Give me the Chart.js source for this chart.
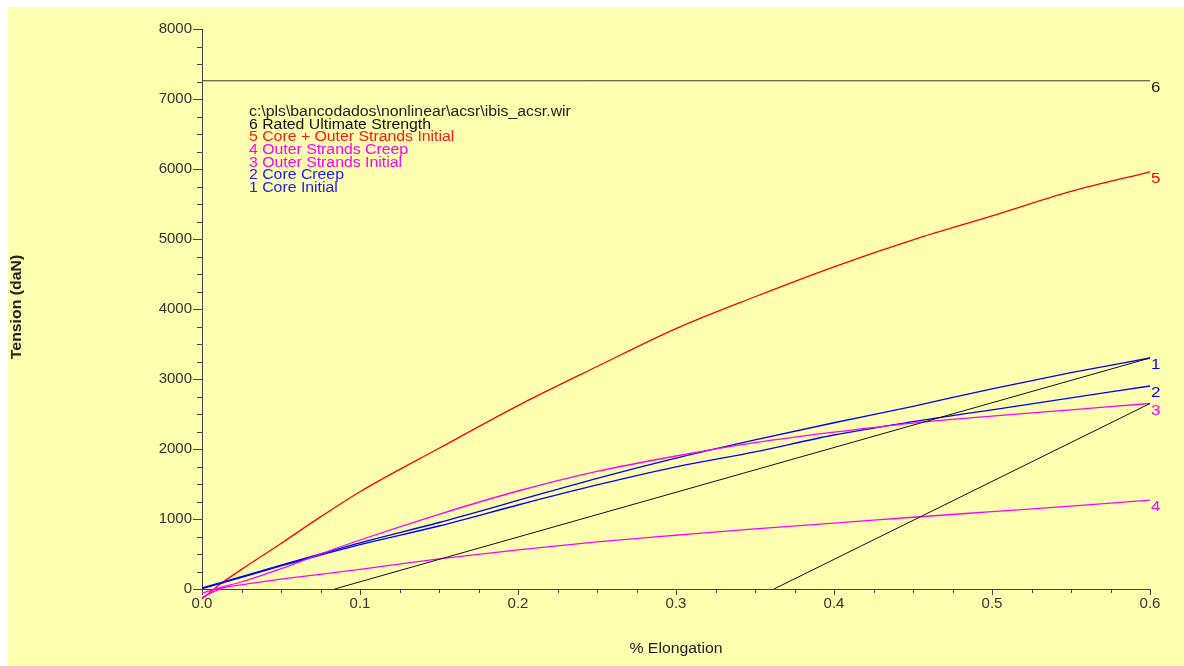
<!DOCTYPE html>
<html>
<head>
<meta charset="utf-8">
<script src="https://cdn.jsdelivr.net/npm/chart.js@4/dist/chart.umd.min.js"></script>
<style>
  html, body { margin: 0; padding: 0; background: #fff; }
  #wrap { width: 1184px; height: 666px; }
</style>
</head>
<body>
<div id="wrap"><canvas id="c" width="1184" height="666"></canvas></div>
<script>
// % elongation sample points shared by the measured curves
const elong = [0, 0.0125, 0.025, 0.05, 0.075, 0.1, 0.15, 0.2, 0.25, 0.3, 0.35, 0.4, 0.45, 0.5, 0.55, 0.6];

// tension (daN)
const coreOuterInitial = [-140, 85, 280, 650, 1030, 1390, 2010, 2620, 3178, 3720, 4175, 4603, 4987, 5330, 5680, 5960];
const outerCreep       = [-120, 10, 60, 140, 210, 280, 430, 560, 672, 768, 860, 940, 1025, 1105, 1185, 1271];
const outerInitial     = [-60, 25, 100, 290, 500, 700, 1067, 1400, 1680, 1900, 2090, 2240, 2370, 2470, 2560, 2650];
const coreCreep        = [5, 85, 165, 330, 485, 635, 900, 1200, 1486, 1745, 1960, 2200, 2390, 2560, 2730, 2900];
const coreInitial      = [15, 95, 175, 340, 500, 660, 950, 1265, 1581, 1870, 2130, 2375, 2610, 2860, 3090, 3300];

// straight lines
const ratedX = [0, 0.6];
const ratedY = [7260, 7260];
const unloadAX = [0.0839, 0.6];
const unloadAY = [0, 3300];
const unloadBX = [0.362, 0.6];
const unloadBY = [0, 2650];

// axis ticks
const xTicks = [0, 0.1, 0.2, 0.3, 0.4, 0.5, 0.6];
const yTicks = [0, 1000, 2000, 3000, 4000, 5000, 6000, 7000, 8000];

// text block
const legendLines = [
  'c:\\pls\\bancodados\\nonlinear\\acsr\\ibis_acsr.wir',
  '6 Rated Ultimate Strength',
  '5 Core + Outer Strands Initial',
  '4 Outer Strands Creep',
  '3 Outer Strands Initial',
  '2 Core Creep',
  '1 Core Initial'
];
const legendColors = ['#222', '#111', '#ff1a1a', '#f0f', '#f0f', '#1a1aff', '#1a1aff'];

const FONT = '"Liberation Sans", Arial, sans-serif';
const BLUE = '#0000ff', MAG = '#ff00ff', RED = '#ff0000';
const STRETCH = 1.13; // the original text is drawn a bit wide

function pts(xs, ys) { return xs.map((x, i) => ({ x: x, y: ys[i] })); }

function curve(label, tag, xs, ys, color, w) {
  return {
    label: label, endTag: tag,
    data: pts(xs, ys),
    borderColor: color, backgroundColor: color,
    borderWidth: w || 1.3, pointRadius: 0, showLine: true,
    cubicInterpolationMode: 'monotone', clip: false
  };
}

// draws text widened horizontally, anchored at x (left or center)
function wideText(ctx, text, x, y, align) {
  ctx.save();
  ctx.translate(x, y);
  ctx.scale(STRETCH, 1);
  ctx.textAlign = align;
  ctx.fillText(text, 0, 0);
  ctx.restore();
}

const bgPlugin = {
  id: 'bg',
  beforeDraw(chart) {
    const ctx = chart.ctx;
    ctx.save();
    ctx.fillStyle = '#fff';
    ctx.fillRect(0, 0, chart.width, chart.height);
    ctx.fillStyle = '#ffffb0';
    ctx.fillRect(8, 7, chart.width - 8, chart.height - 7);
    ctx.restore();
  }
};

const extrasPlugin = {
  id: 'extras',
  afterDraw(chart) {
    const ctx = chart.ctx;
    const xs = chart.scales.x, ys = chart.scales.y;
    ctx.save();
    // minor ticks
    ctx.strokeStyle = '#444';
    ctx.lineWidth = 1;
    ctx.beginPath();
    for (let v = 250; v < 8000; v += 250) {
      if (v % 1000 === 0) continue;
      const y = Math.round(ys.getPixelForValue(v)) + 0.5;
      ctx.moveTo(ys.right - 5, y); ctx.lineTo(ys.right, y);
    }
    for (let i = 1; i < 24; i++) {
      if (i % 4 === 0) continue;
      const x = Math.round(xs.getPixelForValue(i * 0.025)) + 0.5;
      ctx.moveTo(x, xs.top); ctx.lineTo(x, xs.top + 4);
    }
    ctx.stroke();

    // end-of-curve numbers
    ctx.font = '15px ' + FONT;
    ctx.textBaseline = 'middle';
    chart.data.datasets.forEach((ds, i) => {
      if (!ds.endTag) return;
      const meta = chart.getDatasetMeta(i);
      const last = meta.data[meta.data.length - 1];
      ctx.fillStyle = ds.endTag === '6' ? '#222' : ds.borderColor;
      wideText(ctx, ds.endTag, last.x + 1, last.y + 7, 'left');
    });

    // text block
    ctx.font = '14px ' + FONT;
    legendLines.forEach((t, i) => {
      ctx.fillStyle = legendColors[i];
      wideText(ctx, t, 249, 112 + i * 12.7, 'left');
    });

    // axis titles
    ctx.fillStyle = '#222';
    ctx.font = '14px ' + FONT;
    wideText(ctx, '% Elongation', 676, 649, 'center');
    ctx.translate(17, 307);
    ctx.rotate(-Math.PI / 2);
    ctx.font = 'bold 14px ' + FONT;
    wideText(ctx, 'Tension (daN)', 0, 0, 'center');
    ctx.restore();
  }
};

new Chart(document.getElementById('c'), {
  type: 'scatter',
  data: {
    datasets: [
      curve('Rated Ultimate Strength', '6', ratedX, ratedY, '#333', 1),
      curve('unload A', null, unloadAX, unloadAY, '#111', 1),
      curve('unload B', null, unloadBX, unloadBY, '#111', 1),
      curve('Outer Strands Creep', '4', elong, outerCreep, MAG),
      curve('Outer Strands Initial', '3', elong, outerInitial, MAG),
      curve('Core Creep', '2', elong, coreCreep, BLUE),
      curve('Core Initial', '1', elong, coreInitial, BLUE),
      curve('Core + Outer Strands Initial', '5', elong, coreOuterInitial, RED)
    ]
  },
  options: {
    responsive: false,
    animation: false,
    devicePixelRatio: 1,
    layout: { padding: { top: 29, right: 34, bottom: 0, left: 0 } },
    plugins: { legend: { display: false }, tooltip: { enabled: false } },
    scales: {
      x: {
        type: 'linear', min: 0, max: 0.6,
        afterBuildTicks: s => { s.ticks = xTicks.map(v => ({ value: v })); },
        afterFit: s => { s.height = 77; },
        ticks: {
          callback: v => v.toFixed(1),
          font: { family: FONT, size: 15 }, color: '#333', padding: 0, maxRotation: 0
        },
        grid: { drawOnChartArea: false, tickLength: 6, color: '#444' },
        border: { color: '#444', width: 1 }
      },
      y: {
        type: 'linear', min: 0, max: 8000,
        afterBuildTicks: s => { s.ticks = yTicks.map(v => ({ value: v })); },
        afterFit: s => { s.width = 202; },
        ticks: {
          callback: v => String(v),
          font: { family: FONT, size: 15 }, color: '#333', padding: 1
        },
        grid: { drawOnChartArea: false, tickLength: 9, color: '#444' },
        border: { color: '#444', width: 1 }
      }
    }
  },
  plugins: [bgPlugin, extrasPlugin]
});
</script>
</body>
</html>
